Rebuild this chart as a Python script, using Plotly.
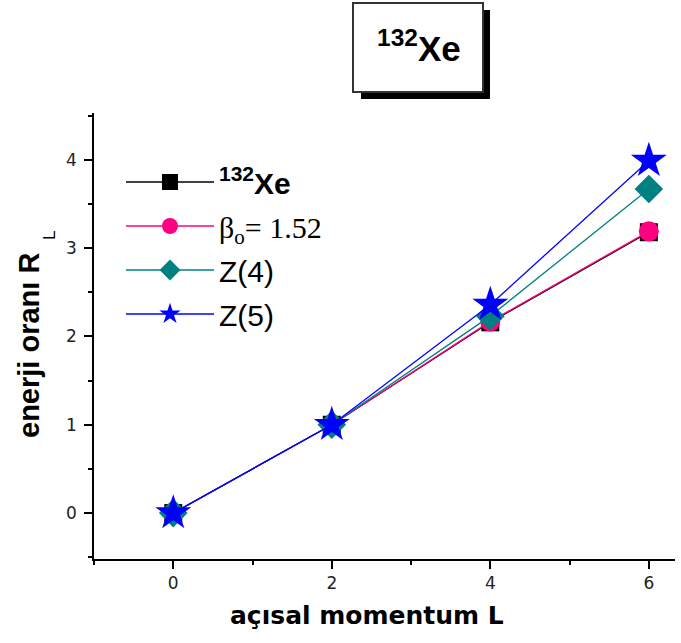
import plotly.graph_objects as go

# ---- data ----
L_values = [0, 2, 4, 6]
xe132_exp = [0.0, 1.0, 2.16, 3.18]
beta_152 = [0.0, 1.0, 2.17, 3.19]
z4_model = [0.0, 1.0, 2.23, 3.67]
z5_model = [0.0, 1.0, 2.36, 3.99]

series_names = [
    "<b><sup>132</sup>Xe</b>",
    '<span style="font-family:Liberation Serif">β<sub>o</sub>= 1.52</span>',
    "Z(4)",
    "Z(5)",
]
x_ticks = [0, 2, 4, 6]
y_ticks = [0, 1, 2, 3, 4]

W, H = 681, 643
ML, MR, MT, MB = 94, 6, 113, 84
PW, PH = W - ML - MR, H - MT - MB


def px(xp):
    return (xp - ML) / PW


def py(yp):
    return (H - MB - yp) / PH


fig = go.Figure()
styles = [
    dict(color="#000000", symbol="square", size=18),
    dict(color="#FF0080", symbol="circle", size=20),
    dict(color="#008080", symbol="diamond", size=22),
    dict(color="#0000FF", symbol="star", size=27),
]
for name, vals, st in zip(series_names, [xe132_exp, beta_152, z4_model, z5_model], styles):
    fig.add_trace(go.Scatter(
        x=L_values, y=vals, name=name, mode="lines+markers",
        legendgroup=name,
        line=dict(color=st["color"], width=1.3),
        marker=dict(color=st["color"], symbol=st["symbol"], size=st["size"], line=dict(width=0)),
    ))

axis_common = dict(
    showline=True, linecolor="black", linewidth=1.5,
    ticks="outside", ticklen=8, tickwidth=1.5, tickcolor="black",
    showgrid=False, zeroline=False,
    tickfont=dict(family="DejaVu Sans", size=17, color="#222222"),
)

fig.update_layout(
    width=W, height=H,
    margin=dict(l=ML, r=MR, t=MT, b=MB),
    paper_bgcolor="white", plot_bgcolor="white",
    xaxis=dict(range=[-1, 6.33], tickvals=x_ticks, ticklabelstandoff=0,
               minor=dict(ticks="outside", ticklen=4, tickwidth=1.5, tickcolor="black", dtick=1, tick0=0),
               **axis_common),
    yaxis=dict(range=[-0.52, 4.53], tickvals=y_ticks, ticklabelstandoff=4,
               minor=dict(ticks="outside", ticklen=4, tickwidth=1.5, tickcolor="black", dtick=0.5, tick0=0),
               **axis_common),
    showlegend=True,
    legend=dict(
        x=px(121), y=py(156), xanchor="left", yanchor="top",
        bgcolor="rgba(0,0,0,0)", borderwidth=0,
        font=dict(family="Liberation Sans", size=30, color="black"),
        itemwidth=88, tracegroupgap=2,
    ),
    shapes=[
        dict(type="rect", xref="paper", yref="paper",
             x0=px(361), x1=px(490), y0=py(99), y1=py(10),
             fillcolor="black", line=dict(width=0)),
        dict(type="rect", xref="paper", yref="paper",
             x0=px(353), x1=px(483), y0=py(92), y1=py(3),
             fillcolor="white", line=dict(color="#333333", width=2)),
    ],
    annotations=[
        dict(text="<b><sup>132</sup>Xe</b>", xref="paper", yref="paper",
             x=px(419), y=py(46), xanchor="center", yanchor="middle", showarrow=False,
             font=dict(family="Liberation Sans", size=35, color="black")),
        dict(text="<b>açısal momentum L</b>", xref="paper", yref="paper",
             x=px(367), y=py(615), xanchor="center", yanchor="middle", showarrow=False,
             font=dict(family="DejaVu Sans", size=25, color="black")),
        dict(text="<b>enerji oranı R</b>", xref="paper", yref="paper",
             x=px(29), y=py(346), xanchor="center", yanchor="middle", showarrow=False, textangle=-90,
             font=dict(family="Liberation Sans", size=29, color="black")),
        dict(text="L", xref="paper", yref="paper",
             x=px(49), y=py(236), xanchor="center", yanchor="middle", showarrow=False, textangle=-90,
             font=dict(family="Liberation Sans", size=17, color="black")),
    ],
)

fig.write_html(
    "out.html",
    config={"displayModeBar": False},
    post_script="document.body.style.margin='0';document.body.style.overflow='hidden';",
)
